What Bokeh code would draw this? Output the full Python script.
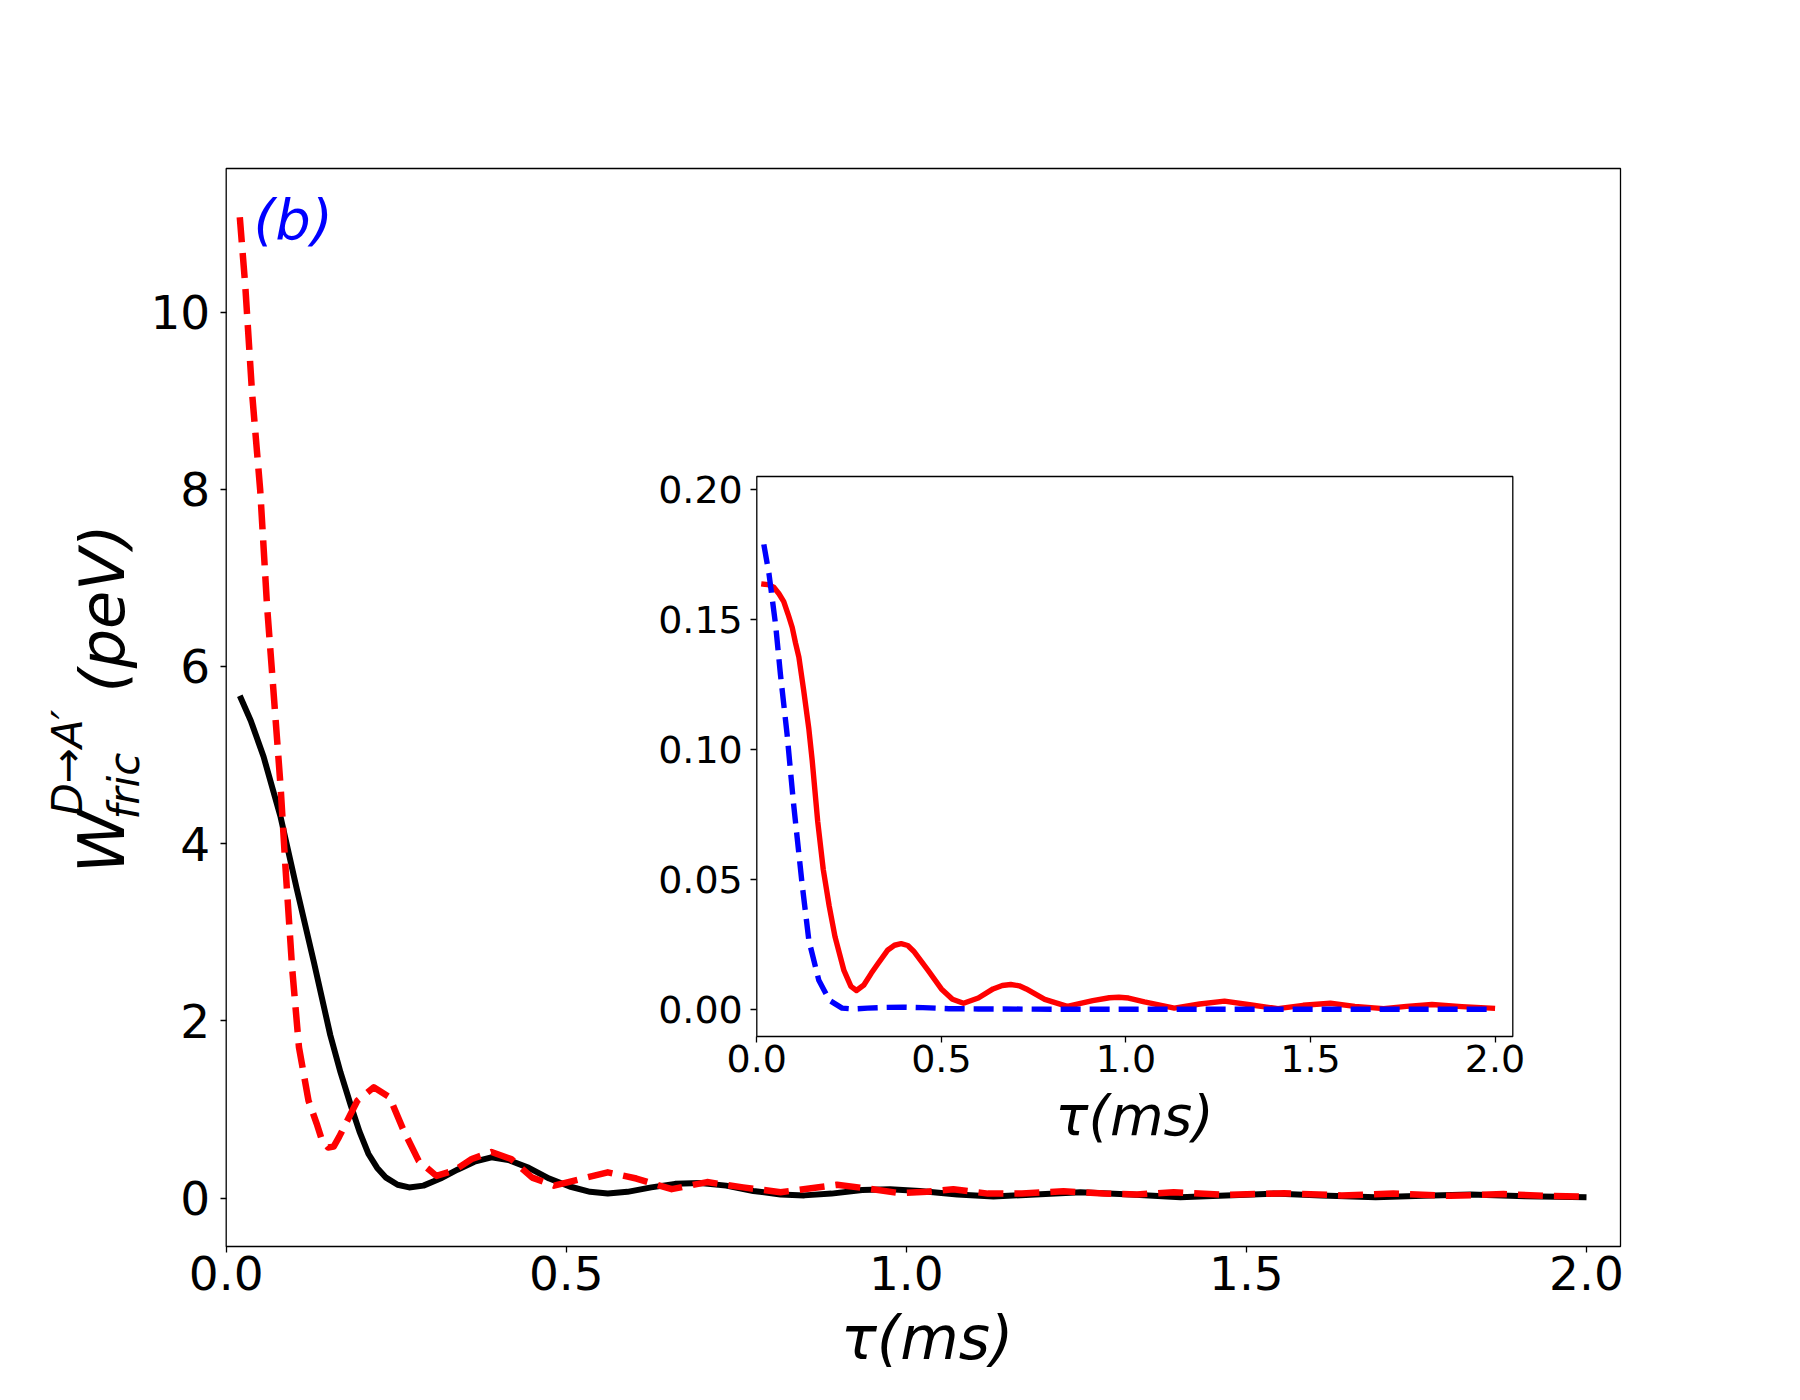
import math
from bokeh.plotting import figure
from bokeh.models import (Range1d, LinearAxis, FixedTicker, NumeralTickFormatter, Label)
from bokeh.embed import file_html
from bokeh.resources import INLINE

# ---------------- data ----------------
main_tau_black = [0.020, 0.036, 0.055, 0.080, 0.104, 0.129, 0.153, 0.168, 0.183, 0.196,
                  0.209, 0.222, 0.235, 0.252, 0.269, 0.290, 0.315, 0.340, 0.365, 0.390,
                  0.415, 0.445, 0.475, 0.505, 0.535, 0.561, 0.590, 0.625, 0.660, 0.697,
                  0.735, 0.775, 0.815, 0.850, 0.890, 0.935, 0.976, 1.020, 1.075, 1.128,
                  1.190, 1.256, 1.330, 1.403, 1.470, 1.540, 1.610, 1.690, 1.760, 1.830,
                  1.910, 2.000]
main_w_black = [5.67, 5.39, 4.98, 4.30, 3.48, 2.66, 1.84, 1.42, 1.05, 0.75,
                0.50, 0.34, 0.23, 0.15, 0.12, 0.14, 0.22, 0.32, 0.41, 0.46,
                0.43, 0.34, 0.22, 0.13, 0.07, 0.05, 0.07, 0.12, 0.16, 0.17,
                0.14, 0.08, 0.04, 0.03, 0.05, 0.09, 0.10, 0.08, 0.04, 0.017,
                0.04, 0.066, 0.04, 0.01, 0.03, 0.05, 0.03, 0.01, 0.025, 0.04,
                0.02, 0.01]

main_tau_red = [0.020, 0.028, 0.038, 0.050, 0.060, 0.070, 0.080, 0.087, 0.097, 0.107,
                0.121, 0.133, 0.141, 0.150, 0.158, 0.166, 0.193, 0.217, 0.240, 0.261,
                0.283, 0.309, 0.335, 0.361, 0.390, 0.419, 0.450, 0.482, 0.524, 0.561,
                0.603, 0.655, 0.707, 0.760, 0.815, 0.860, 0.898, 0.940, 0.990, 1.030,
                1.069, 1.120, 1.170, 1.231, 1.290, 1.339, 1.393, 1.470, 1.555, 1.640,
                1.716, 1.800, 1.878, 1.940, 2.000]
main_w_red = [11.07, 10.30, 9.09, 7.99, 6.69, 5.67, 4.64, 3.75, 2.59, 1.70,
              1.10, 0.84, 0.65, 0.57, 0.58, 0.69, 1.10, 1.25, 1.14, 0.76,
              0.42, 0.25, 0.31, 0.44, 0.52, 0.44, 0.23, 0.14, 0.22, 0.29,
              0.22, 0.10, 0.18, 0.12, 0.066, 0.11, 0.149, 0.11, 0.055, 0.07,
              0.10, 0.05, 0.05, 0.077, 0.05, 0.04, 0.066, 0.035, 0.054, 0.03,
              0.05, 0.025, 0.045, 0.025, 0.017]

inset_tau_red = [0.012, 0.030, 0.046, 0.060, 0.073, 0.085, 0.096, 0.105, 0.114, 0.127,
                 0.141, 0.150, 0.165, 0.180, 0.196, 0.212, 0.236, 0.255, 0.270, 0.290,
                 0.310, 0.328, 0.355, 0.373, 0.391, 0.409, 0.425, 0.464, 0.500, 0.530,
                 0.560, 0.600, 0.640, 0.665, 0.688, 0.711, 0.730, 0.780, 0.841, 0.910,
                 0.955, 0.981, 1.007, 1.050, 1.131, 1.200, 1.267, 1.340, 1.412, 1.480,
                 1.554, 1.620, 1.698, 1.760, 1.829, 1.910, 2.000]
inset_w_red = [0.1638, 0.1635, 0.1625, 0.1600, 0.1570, 0.1520, 0.1470, 0.1410, 0.1356, 0.1228,
               0.1080, 0.0960, 0.0724, 0.0540, 0.0400, 0.0280, 0.0151, 0.0090, 0.0074, 0.0095,
               0.0140, 0.0177, 0.0230, 0.0248, 0.0254, 0.0247, 0.0225, 0.0151, 0.0080, 0.0040,
               0.0025, 0.0045, 0.0080, 0.0093, 0.0097, 0.0092, 0.0080, 0.0040, 0.0013, 0.0035,
               0.0046, 0.0048, 0.0045, 0.0030, 0.0006, 0.0022, 0.0033, 0.0018, 0.0004, 0.0017,
               0.0025, 0.0013, 0.0004, 0.0013, 0.0020, 0.0012, 0.0005]

inset_tau_blue = [0.019, 0.033, 0.051, 0.064, 0.075, 0.082, 0.099, 0.123, 0.141, 0.168,
                  0.197, 0.231, 0.260, 0.300, 0.350, 0.397, 0.450, 0.520, 0.600, 0.800,
                  1.000, 1.500, 2.000]
inset_w_blue = [0.179, 0.1677, 0.148, 0.129, 0.115, 0.106, 0.080, 0.048, 0.0267, 0.0113,
                0.0036, 0.0006, 0.0003, 0.0006, 0.0009, 0.0010, 0.0008, 0.0004, 0.0003, 0.0002,
                0.0002, 0.0002, 0.0002]

main_xticks = [0.0, 0.5, 1.0, 1.5, 2.0]
main_yticks = [0, 2, 4, 6, 8, 10]
inset_xticks = [0.0, 0.5, 1.0, 1.5, 2.0]
inset_yticks = [0.00, 0.05, 0.10, 0.15, 0.20]

# ---------------- layout constants (pixels on the canvas) ----------------
W, H = 1784, 1384
FL, FR, FT, FB = 225.7, 1620.0, 168.0, 1246.0    # main axes box
IL, IR, IT, IB = 756.3, 1512.3, 476.0, 1036.0    # inset axes box
MX0, MX1 = 0.0, 2.05
MY0, MY1 = -0.547, 11.62
IX0, IX1 = 0.0, 2.048
IY0, IY1 = -0.0103, 0.2051

FONT = "DejaVu Sans"
BASE_FIX = 0.31       # Label baseline correction (fraction of font size)
ROT_FIX = 0.45        # same correction for rotated labels

# the plotting frame covers the whole canvas; default ranges are canvas pixels
p = figure(width=W, height=H, output_backend="svg", toolbar_location=None,
           x_range=Range1d(0, W), y_range=Range1d(H, 0),
           min_border_left=0, min_border_right=0, min_border_top=0, min_border_bottom=0,
           x_axis_type=None, y_axis_type=None)
p.background_fill_color = "white"
p.border_fill_color = "white"
p.outline_line_color = None
p.xgrid.visible = False
p.ygrid.visible = False


def box_ranges(x0, x1, y0, y1, left, right, top, bottom):
    sx = (right - left) / (x1 - x0)
    sy = (bottom - top) / (y1 - y0)
    xr = Range1d(x0 - left / sx, x1 + (W - right) / sx)
    yr = Range1d(y0 - (H - bottom) / sy, y1 + top / sy)
    return xr, yr


mxr, myr = box_ranges(MX0, MX1, MY0, MY1, FL, FR, FT, FB)
ixr, iyr = box_ranges(IX0, IX1, IY0, IY1, IL, IR, IT, IB)
p.extra_x_ranges = {"mx": mxr, "ix": ixr}
p.extra_y_ranges = {"my": myr, "iy": iyr}


def style_axis(ax, size, standoff):
    ax.major_label_text_font = FONT
    ax.major_label_text_font_size = size
    ax.major_label_text_color = "black"
    ax.major_tick_in = 0
    ax.major_tick_out = 6
    ax.major_tick_line_width = 1.3
    ax.minor_tick_line_color = None
    ax.major_label_standoff = standoff
    ax.axis_line_color = None


# main axes box
p.quad(left=[MX0], right=[MX1], bottom=[MY0], top=[MY1], x_range_name="mx", y_range_name="my",
       fill_color=None, line_color="black", line_width=1.3)

# main curves
p.line(main_tau_black, main_w_black, x_range_name="mx", y_range_name="my",
       line_color="black", line_width=6, line_join="round")
p.line(main_tau_red, main_w_red, x_range_name="mx", y_range_name="my",
       line_color="#ff0000", line_width=6.5, line_dash="25 11", line_join="round")

# main axes
xa = LinearAxis(x_range_name="mx", y_range_name="my", fixed_location=MY0, bounds=(MX0, MX1),
                ticker=FixedTicker(ticks=main_xticks), formatter=NumeralTickFormatter(format="0.0"))
style_axis(xa, "47px", 3)
p.add_layout(xa, "below")
ya = LinearAxis(x_range_name="mx", y_range_name="my", fixed_location=MX0, bounds=(MY0, MY1),
                ticker=FixedTicker(ticks=main_yticks), formatter=NumeralTickFormatter(format="0"))
style_axis(ya, "47px", 10)
p.add_layout(ya, "left")

# inset background and box
p.quad(left=[IX0], right=[IX1], bottom=[IY0], top=[IY1], x_range_name="ix", y_range_name="iy",
       fill_color="white", line_color="black", line_width=1.3)

# inset curves
p.line(inset_tau_red, inset_w_red, x_range_name="ix", y_range_name="iy",
       line_color="#ff0000", line_width=5.4, line_join="round")
p.line(inset_tau_blue, inset_w_blue, x_range_name="ix", y_range_name="iy",
       line_color="#0000ff", line_width=5.4, line_dash="20 9", line_join="round")

# inset axes
ixa = LinearAxis(x_range_name="ix", y_range_name="iy", fixed_location=IY0, bounds=(IX0, IX1),
                 ticker=FixedTicker(ticks=inset_xticks), formatter=NumeralTickFormatter(format="0.0"))
style_axis(ixa, "38px", 2)
p.add_layout(ixa, "below")
iya = LinearAxis(x_range_name="ix", y_range_name="iy", fixed_location=IX0, bounds=(IY0, IY1),
                 ticker=FixedTicker(ticks=inset_yticks), formatter=NumeralTickFormatter(format="0.00"))
style_axis(iya, "38px", 8)
p.add_layout(iya, "left")


def add_label(px, py, text, size_px, rotated=False, align="left", color="black"):
    # (px, py): start (or centre) of the text baseline on the canvas
    if rotated:
        px = px - ROT_FIX * size_px
    else:
        py = py - BASE_FIX * size_px
    p.add_layout(Label(x=px, y=py, text=text, text_font=FONT, text_font_size=f"{size_px}px",
                       text_font_style="italic", text_color=color, text_align=align,
                       text_baseline="alphabetic", angle=(math.pi / 2 if rotated else 0.0)))


# y axis title: W_fric^{D→A'}(peV), rotated
add_label(130, 873, "W", 64, rotated=True)
add_label(86, 815, "D\u2192A\u2032", 42, rotated=True)
add_label(143.3, 819, "fric", 42, rotated=True)
add_label(130, 692, "(peV)", 62, rotated=True)

# x axis titles
add_label(926.5, 1356, "\u03c4(ms)", 60, align="center")
add_label(1134, 1132.5, "\u03c4(ms)", 55, align="center")

# panel tag
add_label(253, 236, "(b)", 56, color="#0000ff")

open("out.html", "w").write(file_html(p, INLINE))
